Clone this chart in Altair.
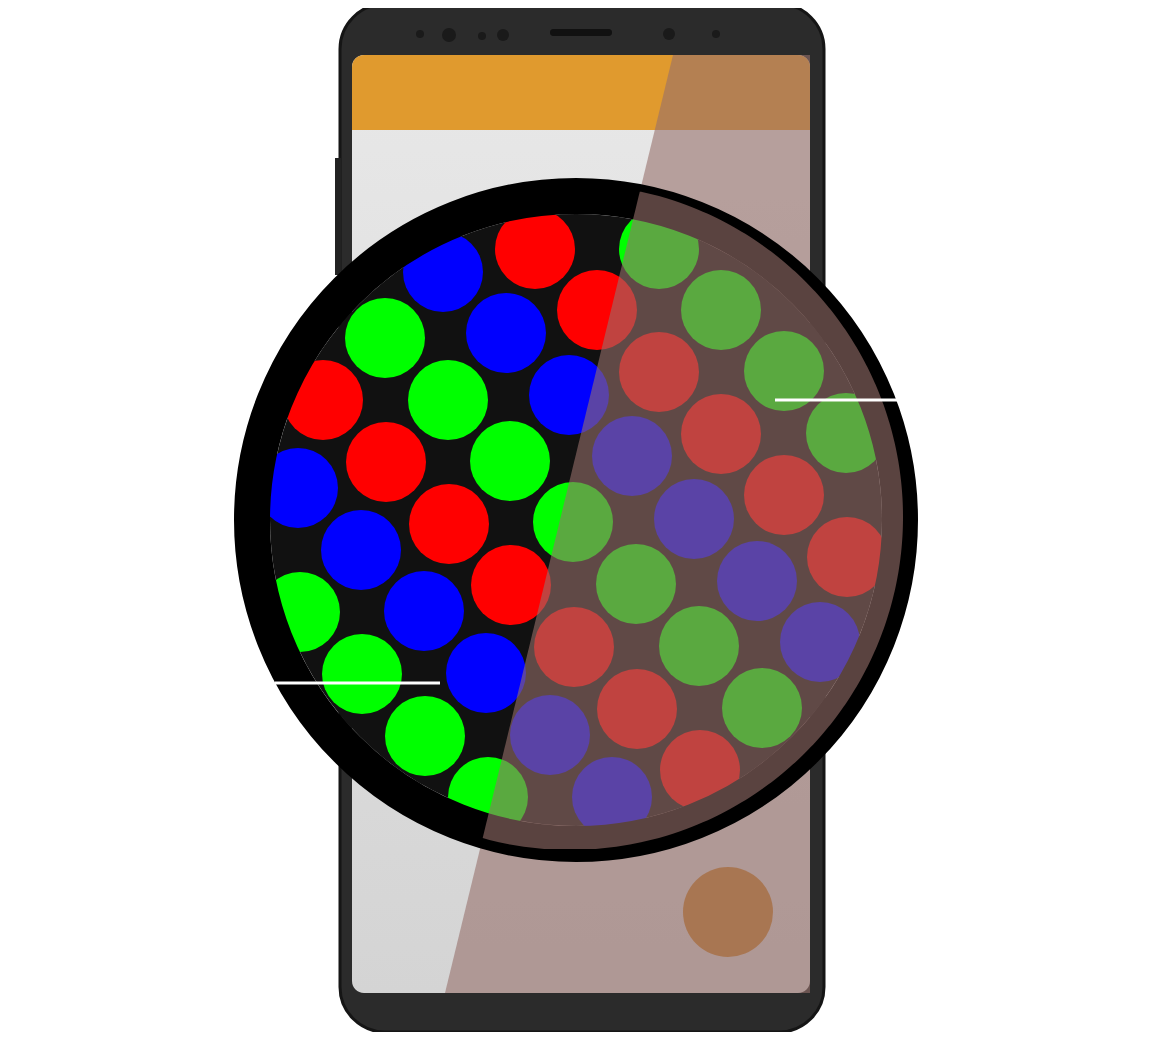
import altair as alt
import numpy as np
import pandas as pd

# subpixel dots: centre x, centre y, colour
dot_x = [535, 597, 659, 721, 784, 847,
         443, 506, 569, 632, 694, 757, 820,
         385, 448, 510, 573, 636, 699, 762,
         323, 386, 449, 511, 574, 637, 700,
         298, 361, 424, 486, 550, 612,
         300, 362, 425, 488,
         659, 721, 784, 846]
dot_y = [249, 310, 372, 434, 495, 557,
         272, 333, 395, 456, 519, 581, 642,
         338, 400, 461, 522, 584, 646, 708,
         400, 462, 524, 585, 647, 709, 770,
         488, 550, 611, 673, 735, 797,
         612, 674, 736, 797,
         249, 310, 371, 433]
dot_c = (["#ff0000"] * 6 + ["#0000ff"] * 7 + ["#00ff00"] * 7 + ["#ff0000"] * 7
         + ["#0000ff"] * 6 + ["#00ff00"] * 4 + ["#00ff00"] * 4)

cam_x = [420, 449, 482, 503, 669, 716]
cam_y = [34, 35, 36, 35, 34, 34]
cam_s = [64, 196, 64, 144, 144, 64]

line_x1 = [775, 275]
line_x2 = [897, 440]
line_y = [400, 683]

X = alt.Scale(domain=[8, 1152])
Y = alt.Scale(domain=[8, 1032], reverse=True)


def rect(x, x2, y, y2, color, **kw):
    df = pd.DataFrame({"x": [x], "x2": [x2], "y": [y], "y2": [y2]})
    return alt.Chart(df).mark_rect(color=color, **kw).encode(
        x=alt.X("x:Q", scale=X, axis=None), x2="x2", y=alt.Y("y:Q", scale=Y, axis=None), y2="y2")


def disc(x, y, d, **kw):
    df = pd.DataFrame({"x": [x], "y": [y]})
    return alt.Chart(df).mark_point(shape="circle", size=d * d, **kw).encode(
        x=alt.X("x:Q", scale=X, axis=None), y=alt.Y("y:Q", scale=Y, axis=None))


body = rect(340, 824, 4, 1032, "#2b2b2b", cornerRadius=45, stroke="#151515", strokeWidth=3)
side = rect(335, 341, 158, 275, "#222")
speaker = rect(550, 612, 29, 36, "#111", cornerRadius=3)
cams = alt.Chart(pd.DataFrame({"x": cam_x, "y": cam_y, "s": cam_s})).mark_point(
    shape="circle", filled=True, color="#1a1a1a", opacity=1).encode(
    x=alt.X("x:Q", scale=X, axis=None), y=alt.Y("y:Q", scale=Y, axis=None),
    size=alt.Size("s:Q", scale=None, legend=None))

screen = rect(352, 810, 55, 993, alt.Gradient(
    gradient="linear", x1=0, y1=0, x2=0, y2=1,
    stops=[alt.GradientStop(color="#e8e8e8", offset=0), alt.GradientStop(color="#d4d4d4", offset=1)]),
    cornerRadius=12)
bar = rect(352, 810, 55, 130, "#e09a2e", cornerRadiusTopLeft=12, cornerRadiusTopRight=12)
button = disc(728, 912, 90, filled=True, color="#c4802e", opacity=1)

ov_color = "#96706a"
screen_ov = alt.Chart(pd.DataFrame({"y": [55, 993], "x": [673, 445], "x2": [810, 810]})).mark_area(
    orient="horizontal", color=ov_color, opacity=0.6).encode(
    y=alt.Y("y:Q", scale=Y, axis=None), x=alt.X("x:Q", scale=X, axis=None), x2="x2")

inner = disc(576, 520, 612, filled=True, color="#111111", opacity=1)
dots = alt.Chart(pd.DataFrame({"x": dot_x, "y": dot_y, "c": dot_c})).mark_point(
    shape="circle", filled=True, size=6400, opacity=1).encode(
    x=alt.X("x:Q", scale=X, axis=None), y=alt.Y("y:Q", scale=Y, axis=None),
    color=alt.Color("c:N", scale=None))
ring = disc(576, 520, 648, filled=False, color="#000000", strokeWidth=36, opacity=1)

# translucent segment of the lens right of the diagonal
cx, cy, r = 570, 517, 333
ys = np.linspace(cy - r + 1, cy + r - 1, 300)
half = np.sqrt(r * r - (ys - cy) ** 2)
edge = 673 - (ys - 55) * 228 / 938
xl = np.maximum(edge, cx - half)
xr = cx + half
keep = xl < xr
lens_ov = alt.Chart(pd.DataFrame({"y": ys[keep], "x": xl[keep], "x2": xr[keep]})).mark_area(
    orient="horizontal", color=ov_color, opacity=0.6).encode(
    y=alt.Y("y:Q", scale=Y, axis=None), x=alt.X("x:Q", scale=X, axis=None), x2="x2")

callouts = alt.Chart(pd.DataFrame({"x": line_x1, "x2": line_x2, "y": line_y})).mark_rule(
    color="white", strokeWidth=3).encode(
    x=alt.X("x:Q", scale=X, axis=None), x2="x2", y=alt.Y("y:Q", scale=Y, axis=None))

chart = alt.layer(body, side, speaker, cams, screen, bar, button, screen_ov,
                  inner, dots, ring, lens_ov, callouts).properties(
    width=1144, height=1024, padding=0, autosize=alt.AutoSizeParams(type="none"),
    background="white").configure_view(strokeWidth=0)

chart.save("out.html", embed_options={"renderer": "svg", "actions": False})
